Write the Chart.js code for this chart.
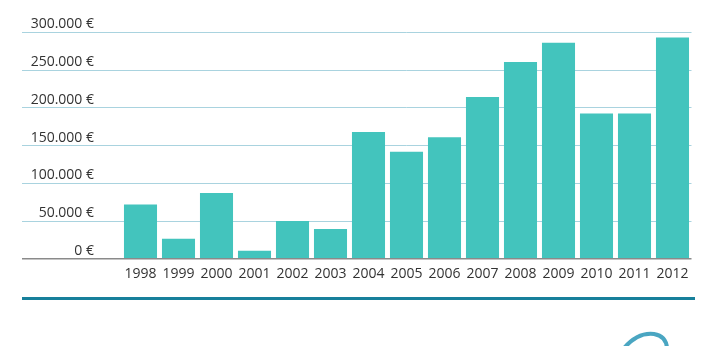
<!DOCTYPE html>
<html>
<head>
<meta charset="utf-8">
<script src="https://cdn.jsdelivr.net/npm/chart.js@4.4.1/dist/chart.umd.min.js"></script>
<style>
    html, body { margin: 0; padding: 0; background: #fff; }
    #wrap { position: relative; width: 703px; height: 346px; overflow: hidden; }
    #regua { position: absolute; left: 22px; top: 297px; width: 673px; height: 3px; background: #17809b; }
    #logo { position: absolute; left: 600px; top: 320px; }
</style>
</head>
<body>
<div id="wrap">
    <canvas id="grafico" width="703" height="346"></canvas>
    <div id="regua"></div>
    <svg id="logo" width="103" height="30">
        <path d="M 24 28 Q 38 12 54 14 Q 66 16 67 28" fill="none" stroke="#4aa6c2" stroke-width="4" stroke-linecap="round"/>
    </svg>
</div>
<script>
// valores anuais (em euros)
const ANOS = ['1998', '1999', '2000', '2001', '2002', '2003', '2004', '2005', '2006', '2007', '2008', '2009', '2010', '2011', '2012'];
const VALORES = [72000, 26500, 87000, 10500, 50000, 39500, 168000, 142000, 161000, 214500, 261000, 286500, 192500, 192500, 293500];
const Y_MAX = 300000;
const Y_PASSO = 50000;

const COR_BARRA = '#43c4bd';
const COR_GRADE = '#a9d3df';
const COR_ZERO = '#8a8a8a';
const COR_TEXTO = '#333333';

function formatarEuro(v) {
    return String(v).replace(/\B(?=(\d{3})+(?!\d))/g, '.') + ' €';
}

const ctx = document.getElementById('grafico');

new Chart(ctx, {
    type: 'bar',
    data: {
        labels: ANOS,
        datasets: [{
            data: VALORES,
            backgroundColor: COR_BARRA,
            borderWidth: 0,
            categoryPercentage: 1,
            barPercentage: 0.87
        }]
    },
    options: {
        responsive: false,
        animation: false,
        layout: {
            padding: { left: 22, right: 11.5, top: 32.5, bottom: 0 }
        },
        plugins: {
            legend: { display: false },
            tooltip: { enabled: false }
        },
        scales: {
            x: {
                grid: { display: false },
                border: { display: false },
                ticks: {
                    color: COR_TEXTO,
                    font: { family: 'Open Sans', size: 14 },
                    padding: -1,
                    maxRotation: 0
                },
                afterFit: (s) => { s.height = 87.3; }
            },
            y: {
                min: 0,
                max: Y_MAX,
                border: { display: false },
                grid: {
                    color: (c) => c.tick && c.tick.value === 0 ? COR_ZERO : COR_GRADE,
                    lineWidth: (c) => c.tick && c.tick.value === 0 ? 1.5 : 1,
                    tickLength: 99.5
                },
                ticks: {
                    stepSize: Y_PASSO,
                    color: COR_TEXTO,
                    font: { family: 'Open Sans', size: 14 },
                    padding: -72,
                    labelOffset: -8,
                    callback: (v) => formatarEuro(v)
                },
                afterFit: (s) => { s.width = 99.5; }
            }
        }
    }
});
</script>
</body>
</html>
